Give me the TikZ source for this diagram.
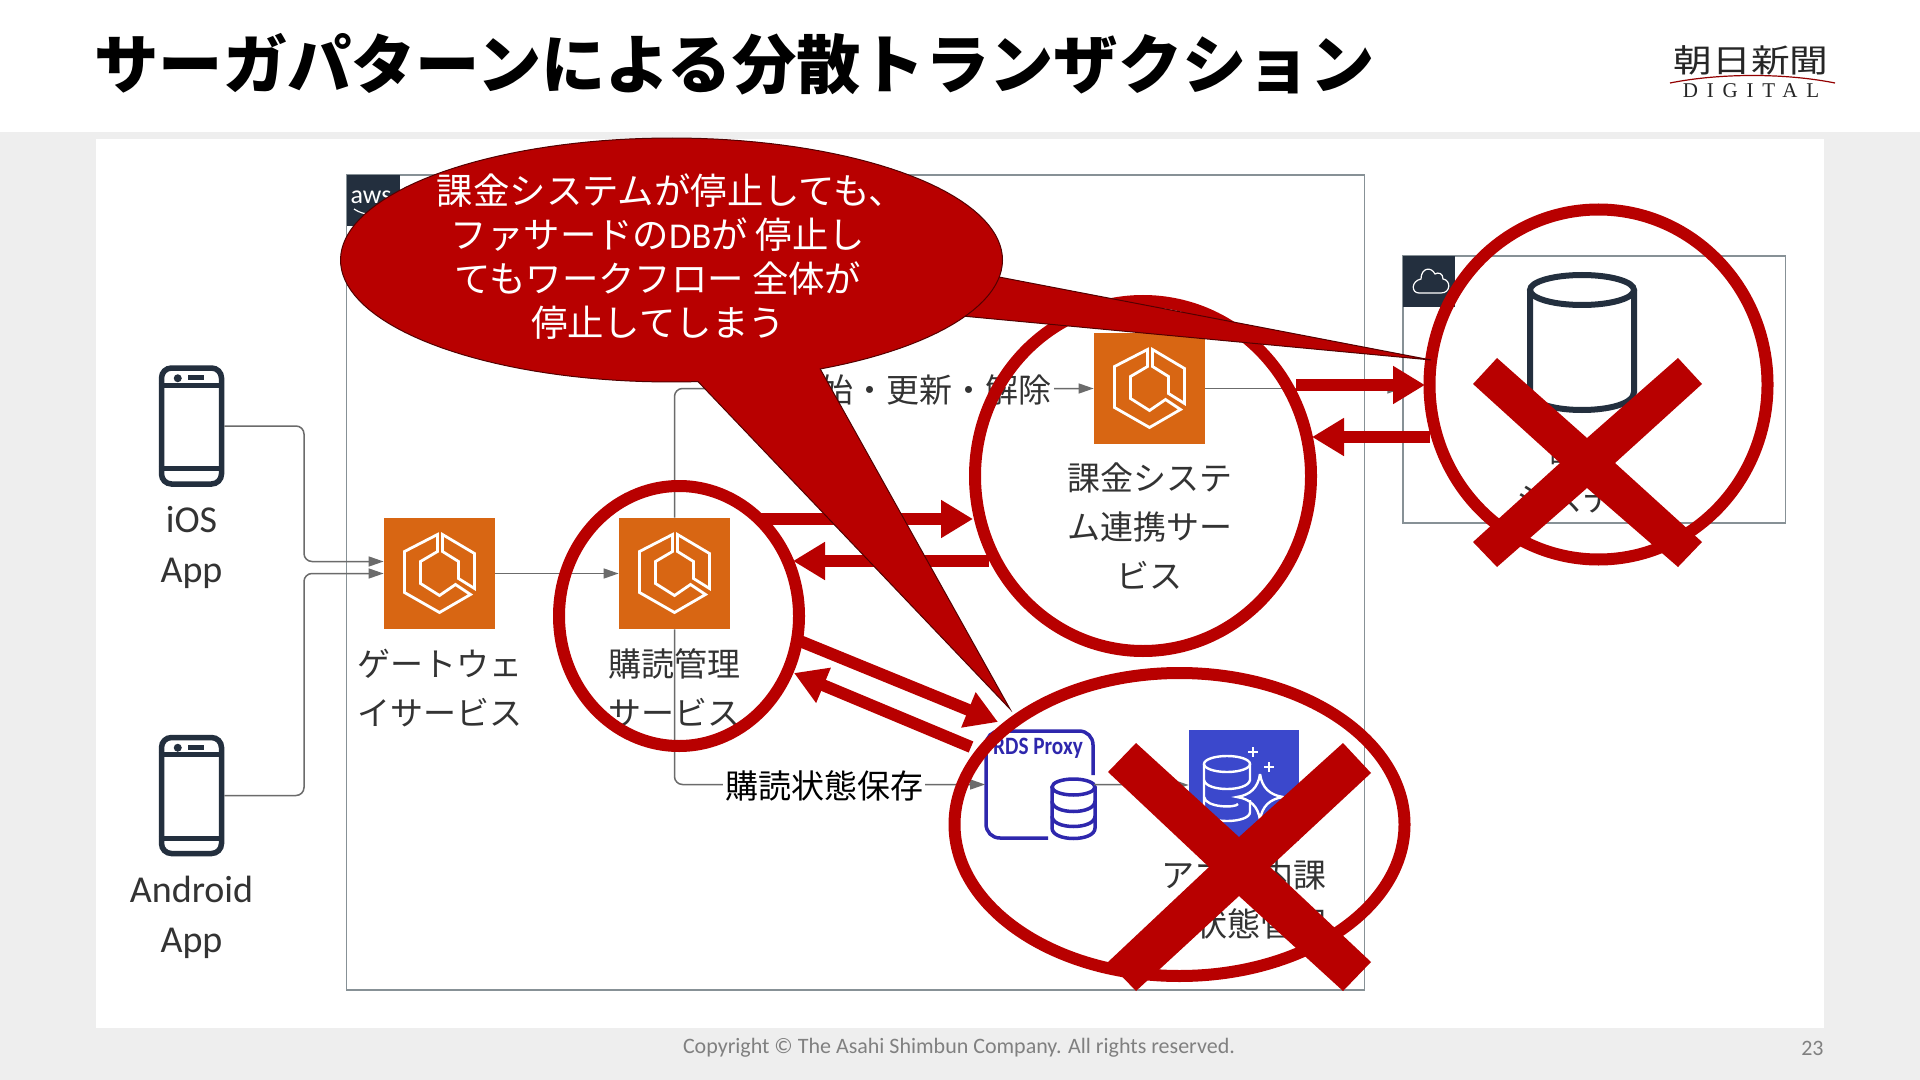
\documentclass[tikz,border=0pt]{standalone}
\usepackage{fontspec}
\setmainfont{Noto Sans CJK JP}
\newfontfamily\latinfont{Carlito}
\newfontfamily\logofont[LetterSpace=42]{Liberation Serif}
\usetikzlibrary{calc,shapes,positioning}
\usetikzlibrary{arrows.meta}
\definecolor{asahired}{HTML}{B80000}
\definecolor{awsdark}{HTML}{232F3E}
\definecolor{ecsorange}{HTML}{D86613}
\definecolor{rdsblue}{HTML}{3B48CC}
\definecolor{proxyblue}{HTML}{2E27AD}
\definecolor{linegrey}{HTML}{6B6B6B}
\definecolor{boxgrey}{HTML}{879196}

\begin{document}
\begin{tikzpicture}[x=0.5pt,y=-0.5pt]
    \tikzstyle{ecsbox} = [fill=ecsorange, minimum size=55.5pt, inner sep=0pt]
    \tikzstyle{phone} = [draw=awsdark, line width=2.75pt, rounded corners=5pt, minimum width=30pt, minimum height=58pt, inner sep=0pt]
    \tikzstyle{groupbox} = [draw=boxgrey, line width=0.75pt, inner sep=0pt]
    \tikzstyle{svclabel} = [text=black!80, align=center, inner sep=0pt, font=\fontsize{16.5}{24.5}\selectfont]
    \tikzstyle{applabel} = [text=black!80, align=center, inner sep=0pt, font=\latinfont\fontsize{19}{25}\selectfont]
    \tikzstyle{msglabel} = [fill=white, inner sep=1pt, font=\fontsize{16.5}{20}\selectfont]
    \tikzstyle{greyline} = [draw=linegrey, line width=0.75pt, rounded corners=4pt, -{Triangle[length=7.5pt,width=5pt]}]
    \tikzstyle{redring} = [ellipse, draw=asahired, line width=6pt, inner sep=0pt]
    \tikzstyle{redarrow} = [draw=asahired, line width=6pt, -{Triangle[length=16pt,width=18pt]}]
    \tikzstyle{callout} = [fill=asahired, draw=asahired!45!black, line width=0.5pt]
    \tikzstyle{icon} = [draw=white, line width=1.4pt, line join=miter]

    % page
    \useasboundingbox (0,0) rectangle (1920,1080);
    \fill[black!6.5] (0,0) rectangle (1920,1080);
    \fill[white] (0,0) rectangle (1920,132);
    \fill[white] (96,139) rectangle (1824,1028);

    \node[anchor=west, inner sep=0pt, font=\fontsize{32.15}{36}\bfseries] (title) at (94,64) {サーガパターンによる分散トランザクション};

    % logo
    \node[inner sep=0pt, xscale=1.21, transform shape, font=\fontsize{16}{18}\selectfont, text=black!85] (logotop) at (1751,60) {朝日新聞};
    \draw[draw=asahired!80!black, line width=0.6pt] (1670,83) .. controls (1720,73) and (1785,73) .. (1835,83);
    \node[inner sep=0pt, font=\logofont\fontsize{10.5}{12}\selectfont, text=black!85] (logobottom) at (1751,91) {DIGITAL};

    \node[anchor=center, inner sep=0pt, text=black!50, font=\latinfont\fontsize{11}{12}\selectfont] (copyright) at (959,1048) {Copyright © The Asahi Shimbun Company. All rights reserved.};
    \node[anchor=east, inner sep=0pt, text=black!50, font=\latinfont\fontsize{11}{12}\selectfont] (pageno) at (1824,1048) {23};

    % groups
    \node[groupbox, minimum width=509pt, minimum height=407.5pt] (awsbox) at (855.5,582.5) {};
    \node[fill=awsdark, minimum width=26.5pt, minimum height=25.5pt, inner sep=0pt] (awstag) at (373,201) {};
    \node[text=white, inner sep=0pt, font=\latinfont\fontsize{13}{14}\selectfont] (awstxt) at (371,197) {aws};
    \draw[draw=white, line width=0.6pt] (354,209) .. controls (364,216) and (378,216) .. (388,209);
    \node[groupbox, minimum width=191.25pt, minimum height=133.5pt] (cloudbox) at (1594.25,389.5) {};
    \node[fill=awsdark, minimum width=26pt, minimum height=25.5pt, inner sep=0pt] (cloudtag) at (1429,281.5) {};
    \draw[draw=white, line width=0.6pt] (1419,293) -- (1441,293) .. controls (1451,293) and (1451,280) .. (1443,279)
      .. controls (1443,273) and (1438,272) .. (1435,274) .. controls (1431,266) and (1421,268) .. (1421,279)
      .. controls (1411,281) and (1411,293) .. (1419,293);

    % services
    \node[phone] (ios) at (191.5,426) {};
    \node[phone] (android) at (191.5,795.5) {};
    \node[ecsbox] (gateway) at (439.5,573.5) {};
    \node[ecsbox] (submgr) at (674.5,573.5) {};
    \node[ecsbox] (billing) at (1149.5,388.5) {};
    \node[fill=rdsblue, minimum width=55pt, minimum height=55.5pt, inner sep=0pt] (aurora) at (1244,785) {};
    \node[minimum width=54pt, minimum height=54pt, inner sep=0pt] (proxy) at (1039.5,784.5) {};

    \foreach \n in {ios,android} {
      \draw[draw=awsdark, line width=2.5pt] ($(\n.north west)+(0,20)$) -- ($(\n.north east)+(0,20)$);
      \draw[draw=awsdark, line width=2.5pt] ($(\n.south west)+(0,-18)$) -- ($(\n.south east)+(0,-18)$);
      \fill[awsdark] ($(\n.north west)+(19,13)$) circle [radius=4];
      \fill[awsdark] ($(\n.north west)+(29,10)$) rectangle ($(\n.north west)+(45,15)$);
    }
    \foreach \n in {gateway,submgr,billing} {
      \begin{scope}[shift={(\n.center)}]
        \draw[icon] (-2,-39) -- (-35,-22) -- (-35,19) -- (0,39) -- (31,21) -- (16,11) -- (0,22) -- (-19,10) -- (-19,-12) -- (-2,-22) -- cycle;
        \draw[icon] (3,-39) -- (35,-20) -- (35,15) -- (19,5) -- (19,-12) -- (3,-22) -- cycle;
      \end{scope}
    }

    % database
    \draw[draw=awsdark, line width=3pt] (1530,290) -- (1530,392) .. controls (1530,416) and (1634,416) .. (1634,392) -- (1634,290);
    \draw[draw=awsdark, line width=3pt] (1582,290) ellipse [x radius=52, y radius=15];

    % rds proxy
    \draw[draw=proxyblue, line width=1.75pt] (1048,838) -- (1000,838) .. controls (992,838) and (986,832) .. (986,824) -- (986,745)
      .. controls (986,737) and (992,731) .. (1000,731) -- (1079,731) .. controls (1087,731) and (1093,737) .. (1093,745) -- (1093,775);
    \node[inner sep=0pt, xscale=0.85, transform shape, text=proxyblue, font=\latinfont\fontsize{12.5}{14}\bfseries] (proxytxt) at (1038,748) {RDS Proxy};
    \draw[draw=proxyblue, line width=1.75pt] (1052,787) -- (1052,828) .. controls (1052,842) and (1095,842) .. (1095,828) -- (1095,787);
    \draw[draw=proxyblue, line width=1.75pt] (1073.5,787) ellipse [x radius=21.5, y radius=8];
    \draw[draw=proxyblue, line width=1.75pt] (1052,801) .. controls (1052,815) and (1095,815) .. (1095,801);
    \draw[draw=proxyblue, line width=1.75pt] (1052,816) .. controls (1052,830) and (1095,830) .. (1095,816);

    % aurora
    \draw[draw=white, line width=1.2pt] (1227,764) ellipse [x radius=23, y radius=8];
    \draw[draw=white, line width=1.2pt] (1204,764) -- (1204,812) .. controls (1204,824) and (1250,824) .. (1250,812) -- (1250,800);
    \draw[draw=white, line width=1.2pt] (1204,780) .. controls (1206,792) and (1248,792) .. (1250,780) -- (1250,764);
    \draw[draw=white, line width=1.2pt] (1204,797) .. controls (1206,808) and (1236,808) .. (1238,804);
    \draw[draw=white, line width=1.2pt] (1260,774) .. controls (1262,788) and (1270,795) .. (1283,797)
      .. controls (1270,799) and (1262,806) .. (1260,820) .. controls (1258,806) and (1250,799) .. (1237,797)
      .. controls (1250,795) and (1258,788) .. (1260,774);
    \draw[draw=white, line width=1.2pt] (1253,747) -- (1253,757) (1248,752) -- (1258,752);
    \draw[draw=white, line width=1.2pt] (1269,762) -- (1269,772) (1264,767) -- (1274,767);

    % connections
    \coordinate (busx) at (304,500);
    \coordinate (gwin1) at ($(gateway.west)+(0,-12)$);
    \draw[greyline] (ios.east) -| (busx |- gwin1) -- (gwin1);
    \draw[greyline] (android.east) -| (busx |- gateway.west) -- (gateway.west);
    \draw[greyline] (gateway.east) -- (submgr.west);
    \draw[greyline] (submgr.north) |- (billing.west);
    \draw[greyline] (submgr.south) |- (proxy.west);
    \draw[greyline] (proxy.east) -- (aurora.west);
    \draw[greyline] (billing.east) -- (billing.east -| cloudbox.west);

    % labels
    \node[applabel] (ioslabel) at (191.5,547) {iOS\\App};
    \node[applabel] (androidlabel) at (191.5,917) {Android\\App};
    \node[svclabel] (gwlabel) at (439.5,688) {ゲートウェ\\イサービス};
    \node[svclabel] (sublabel) at (674.5,688) {購読管理\\サービス};
    \node[svclabel] (billlabel) at (1149.5,526) {課金システ\\ム連携サー\\ビス};
    \node[svclabel] (dblabel) at (1582,474) {課金\\システム};
    \node[svclabel] (auroralabel) at (1244,899) {アプリ内課\\金状態管理};
    \node[msglabel, text=black!80, anchor=east] (startmsg) at (1054,390) {始・更新・解除};
    \node[msglabel, text=black] (savemsg) at (824,786) {購読状態保存};

    % red marks
    \node[redring, minimum width=120pt, minimum height=130pt] (ringsub) at (679,616) {};
    \node[redring, minimum width=168pt, minimum height=175pt] (ringbill) at (1143,476) {};
    \node[redring, minimum width=225pt, minimum height=151.5pt] (ringaurora) at (1179.5,824.5) {};
    \node[redring, minimum width=169pt, minimum height=175pt] (ringdb) at (1598.5,384.5) {};

    \fill[asahired] (1497,358) -- (1587,438) -- (1678,358) -- (1702,384) -- (1615,463) -- (1702,542) -- (1678,567)
      -- (1587,488) -- (1497,567) -- (1473,542) -- (1560,463) -- (1473,384) -- cycle;
    \fill[asahired] (1136,743) -- (1239,837) -- (1343,743) -- (1371,773) -- (1270,867) -- (1371,962) -- (1343,991)
      -- (1239,896) -- (1136,991) -- (1108,962) -- (1209,867) -- (1108,772) -- cycle;

    \coordinate (a1s) at (760,519);   \coordinate (a1e) at (973,519);
    \coordinate (a2s) at (989,561);   \coordinate (a2e) at (793,561);
    \coordinate (a3s) at (795,639);   \coordinate (a3e) at (998,722);
    \coordinate (a4s) at (971,747);   \coordinate (a4e) at (794,673);
    \coordinate (a5s) at (1296,385);  \coordinate (a5e) at (1425,385);
    \coordinate (a6s) at (1430,437);  \coordinate (a6e) at (1312,437);
    \foreach \s/\e in {a1s/a1e,a2s/a2e,a3s/a3e,a4s/a4e,a5s/a5e,a6s/a6e}
      \draw[redarrow] (\s) -- (\e);

    % callout
    \draw[callout] (999,277) -- (1431,360) -- (962,316) -- cycle;
    \draw[callout] plot[domain=85.4:423.3, samples=140] ({671.5+331*cos(\x)},{260+122*sin(\x)}) -- (1010,709) -- cycle;
    \node[text=white, align=center, inner sep=0pt, font=\fontsize{18.2}{22}\selectfont] (callouttxt) at (658,257)
      {\hspace*{13pt}課金システムが停止しても、\\ファサードの{\latinfont DB}が 停止し\\てもワークフロー 全体が\\停止してしまう};
  \end{tikzpicture}
\end{document}
